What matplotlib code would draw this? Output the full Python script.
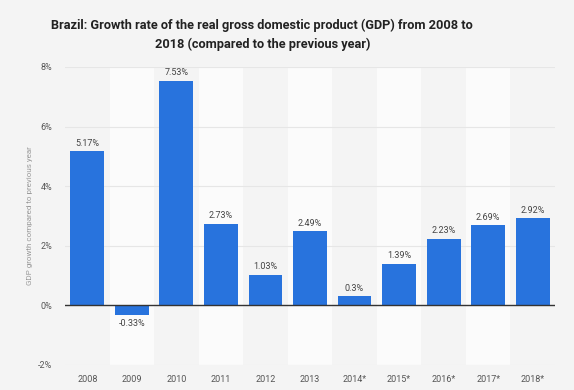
import matplotlib
matplotlib.use("Agg")
import matplotlib.pyplot as plt

years = ["2008", "2009", "2010", "2011", "2012", "2013", "2014*", "2015*", "2016*", "2017*", "2018*"]
growth = [5.17, -0.33, 7.53, 2.73, 1.03, 2.49, 0.3, 1.39, 2.23, 2.69, 2.92]
labels = ["5.17%", "-0.33%", "7.53%", "2.73%", "1.03%", "2.49%", "0.3%", "1.39%", "2.23%", "2.69%", "2.92%"]
yticks = [-2, 0, 2, 4, 6, 8]

fam = ["Roboto", "DejaVu Sans"]
bg = "#f4f4f4"
fig = plt.figure(figsize=(5.74, 3.90), dpi=100, facecolor=bg)
ax = fig.add_axes([65/574, 1-365/390, 490/574, (365-67)/390])
ax.set_facecolor(bg)

n = len(years)
x = list(range(n))
for i in x:
    if i % 2 == 1:
        ax.axvspan(i-0.5, i+0.5, color="#fbfbfb", zorder=0, lw=0)

for t in yticks:
    ax.axhline(t, color="#e6e6e6", lw=0.8, zorder=1)

ax.bar(x, growth, width=0.76, color="#2873dd", zorder=2)
ax.axhline(0, color="#333333", lw=1.0, zorder=3)

for xi, v, lab in zip(x, growth, labels):
    if v >= 0:
        ax.text(xi, v + 0.12, lab, ha="center", va="bottom", fontsize=6.5, color="#444444", family=fam)
    else:
        ax.text(xi, v - 0.12, lab, ha="center", va="top", fontsize=6.5, color="#444444", family=fam)

ax.set_xlim(-0.5, n-0.5)
ax.set_ylim(-2, 8)
ax.set_xticks(x)
ax.set_xticklabels(years, fontsize=6.5, color="#555555", family=fam)
ax.set_yticks(yticks)
ax.set_yticklabels([f"{t}%" for t in yticks], fontsize=6.5, color="#555555", family=fam)
ax.tick_params(length=0)
ax.tick_params(axis="x", pad=7)
ax.tick_params(axis="y", pad=9)
for s in ax.spines.values():
    s.set_visible(False)

ax.set_ylabel("GDP growth compared to previous year", fontsize=5.8, color="#999999", labelpad=4, family=fam)

fig.text(0.457, 0.9115, "Brazil: Growth rate of the real gross domestic product (GDP) from 2008 to\n2018 (compared to the previous year)",
         ha="center", va="center", fontsize=9.2, fontweight="bold", color="#222222", linespacing=1.55, family=fam)

fig.savefig("out.png", dpi=100, facecolor=bg)
